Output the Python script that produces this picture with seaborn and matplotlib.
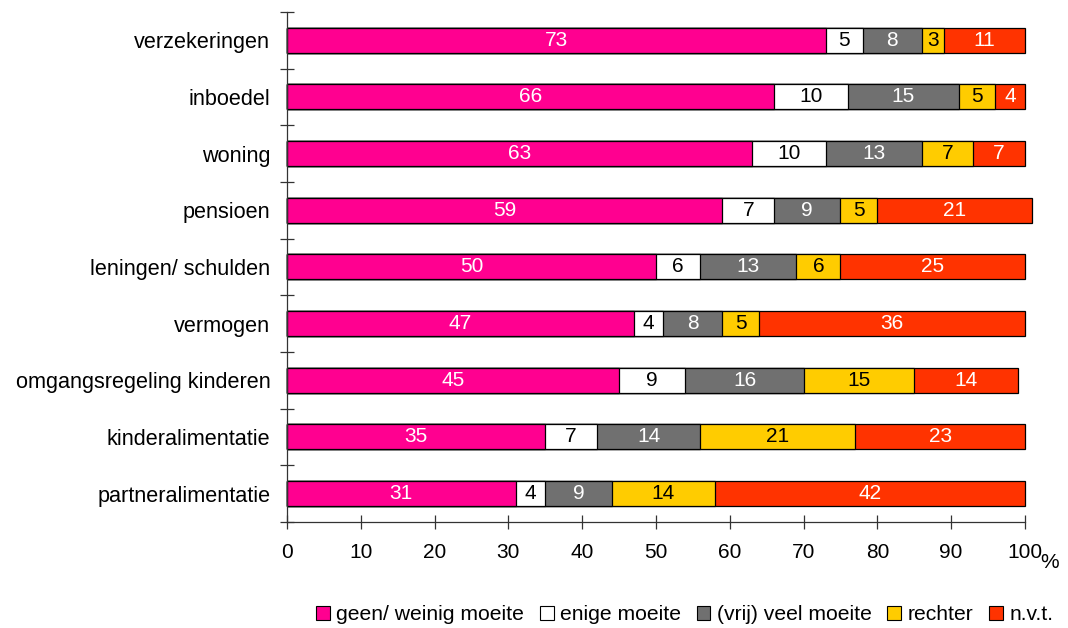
import numpy as np
import pandas as pd
import matplotlib
matplotlib.use("Agg")
import matplotlib.pyplot as plt
from matplotlib.patches import Patch
import seaborn as sns

# ---- data -------------------------------------------------------------
categories = [
    "verzekeringen", "inboedel", "woning", "pensioen",
    "leningen/ schulden", "vermogen", "omgangsregeling kinderen",
    "kinderalimentatie", "partneralimentatie",
]
geen_weinig = [73, 66, 63, 59, 50, 47, 45, 35, 31]
enige = [5, 10, 10, 7, 6, 4, 9, 7, 4]
vrij_veel = [8, 15, 13, 9, 13, 8, 16, 14, 9]
rechter = [3, 5, 7, 5, 6, 5, 15, 21, 14]
nvt = [11, 4, 7, 21, 25, 36, 14, 23, 42]

series_names = ["geen/ weinig moeite", "enige moeite", "(vrij) veel moeite",
                "rechter", "n.v.t."]
series_values = [geen_weinig, enige, vrij_veel, rechter, nvt]
x_ticks = [0, 10, 20, 30, 40, 50, 60, 70, 80, 90, 100]

colors = ["#FF0090", "#FFFFFF", "#707070", "#FFCC00", "#FF3300"]
text_colors = ["white", "black", "white", "black", "white"]

# ---- style ------------------------------------------------------------
sns.set_style("white")
plt.rcParams["font.family"] = ["Liberation Sans", "DejaVu Sans"]
plt.rcParams["text.color"] = "black"
plt.rcParams["xtick.color"] = "black"
plt.rcParams["ytick.color"] = "black"

fig = plt.figure(figsize=(10.68, 6.28), dpi=100)
ax = fig.add_axes([0.2687, 0.169, 0.9597 - 0.2687, 0.981 - 0.169])

# cumulative totals, drawn back to front so each segment shows
vals = np.array(series_values, dtype=float)
cum = np.cumsum(vals, axis=0)
starts = cum - vals

for i in reversed(range(len(series_names))):
    df = pd.DataFrame({"cat": categories, "val": cum[i]})
    sns.barplot(data=df, x="val", y="cat", order=categories, orient="h",
                color=colors[i], saturation=1, width=0.44, errorbar=None,
                edgecolor="black", linewidth=0.9, ax=ax, clip_on=False)

# segment labels
for i in range(len(series_names)):
    for j, cat in enumerate(categories):
        mid = starts[i, j] + vals[i, j] / 2
        ax.text(mid, j, f"{int(vals[i, j])}", ha="center", va="center",
                fontsize=15, color=text_colors[i])

# ---- axes -------------------------------------------------------------
ax.set_xlim(0, 100)
ax.set_ylim(len(categories) - 0.5, -0.5)
ax.set_xticks(x_ticks)
ax.set_xticklabels([str(t) for t in x_ticks])
ax.set_yticks(range(len(categories)))
ax.set_yticklabels(categories)
ax.set_yticks(np.arange(-0.5, len(categories)), minor=True)
ax.set_xlabel("")
ax.set_ylabel("")

ax.tick_params(axis="x", direction="inout", length=10, width=0.9,
               color="#333333", labelsize=15, pad=10, bottom=True)
ax.tick_params(axis="y", which="major", length=0, labelsize=15.6, pad=12)
ax.tick_params(axis="y", which="minor", direction="inout", length=10,
               width=0.9, color="#333333", left=True)

for side in ["top", "right"]:
    ax.spines[side].set_visible(False)
for side in ["left", "bottom"]:
    ax.spines[side].set_color("#333333")
    ax.spines[side].set_linewidth(0.9)

fig.text(1040 / 1068, 1 - 562 / 628, "%", fontsize=15, ha="left", va="center")

handles = [Patch(facecolor=c, edgecolor="black", linewidth=0.8) for c in colors]
fig.legend(handles, series_names, loc="center", bbox_to_anchor=(0.641, 0.021),
           ncol=5, frameon=False, fontsize=15.2, handlelength=0.65,
           handleheight=0.65, handletextpad=0.3, columnspacing=0.75)

fig.savefig("out.png", dpi=100)
